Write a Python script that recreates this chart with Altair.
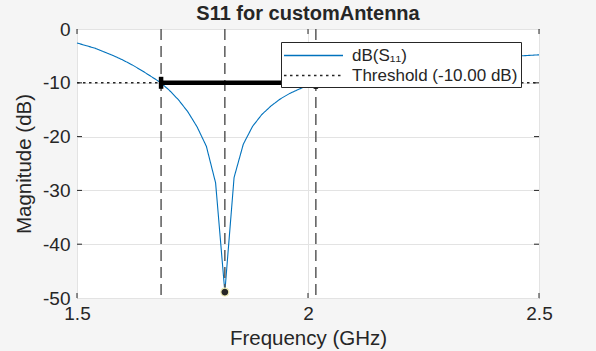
import altair as alt
import pandas as pd

# ---- data ----
freq_ghz = [1.50, 1.52, 1.54, 1.56, 1.58, 1.60, 1.62, 1.64, 1.66, 1.68,
            1.70, 1.72, 1.74, 1.76, 1.78, 1.80, 1.82, 1.84, 1.86, 1.88,
            1.90, 1.92, 1.94, 1.96, 1.98, 2.00, 2.02, 2.04, 2.06, 2.08,
            2.10, 2.12, 2.14, 2.16, 2.18, 2.20, 2.22, 2.24, 2.26, 2.28,
            2.30, 2.32, 2.34, 2.36, 2.38, 2.40, 2.42, 2.44, 2.46, 2.48, 2.50]
s11_db = [-2.6, -3.1, -3.6, -4.3, -5.0, -5.8, -6.7, -7.7, -8.8, -9.9,
          -11.4, -13.2, -15.4, -18.2, -21.8, -28.6, -48.9, -27.6, -21.4, -18.1,
          -15.9, -14.3, -13.0, -12.0, -11.2, -10.5, -9.9, -9.3, -8.8, -8.4,
          -8.0, -7.7, -7.4, -7.1, -6.9, -6.7, -6.5, -6.3, -6.2, -6.0,
          -5.9, -5.8, -5.6, -5.5, -5.4, -5.3, -5.2, -5.1, -5.0, -4.9, -4.8]
threshold_db = -10
marker_freqs = [1.682, 1.820, 2.017]
band_lo, band_hi = 1.682, 2.017
min_freq, min_db = 1.82, -48.9
x_ticks = [1.5, 2.0, 2.5]
y_ticks = [0, -10, -20, -30, -40, -50]

curve_name = "dB(S\u2081\u2081)"
thr_name = "Threshold (-10.00 dB)"

FONT = "Liberation Sans"
TXT = "#262626"

df_curve = pd.DataFrame({"f": freq_ghz, "db": s11_db, "series": curve_name})
df_thr = pd.DataFrame({"f": [x_ticks[0], x_ticks[-1]], "db": [threshold_db] * 2, "series": thr_name})
df_marks = pd.DataFrame({"f": marker_freqs})
df_band = pd.DataFrame({"lo": [band_lo], "hi": [band_hi], "db": [threshold_db]})
df_ends = pd.DataFrame({"f": [band_lo, band_hi], "db": [threshold_db] * 2})
df_min = pd.DataFrame({"f": [min_freq], "db": [min_db]})
df_xt = pd.DataFrame({"f": x_ticks})
df_yt = pd.DataFrame({"db": y_ticks[1:-1]})

W, H = 462, 269

xscale = alt.Scale(domain=[1.5, 2.5], nice=False, zero=False)
yscale = alt.Scale(domain=[-50, 0], nice=False, zero=False)

xax = alt.Axis(values=x_ticks, grid=True, gridColor="#e3e3e3", ticks=False, tickSize=0,
               domain=False, labelFontSize=19, labelFont=FONT, labelColor=TXT,
               labelPadding=6, labelFlush=False, title="Frequency (GHz)", titleFont=FONT,
               titleFontSize=20.5, titleFontWeight="normal", titleColor=TXT, titlePadding=5,
               labelExpr="'' + datum.value")
yax = alt.Axis(values=y_ticks, grid=True, gridColor="#e3e3e3", ticks=False, tickSize=0,
               domain=False, labelFontSize=19, labelFont=FONT, labelColor=TXT,
               labelPadding=7, labelFlush=False, title="Magnitude (dB)", titleFont=FONT,
               titleFontSize=20.5, titleFontWeight="normal", titleColor=TXT, titlePadding=8,
               labelExpr="'' + datum.value")

color_scale = alt.Scale(domain=[curve_name, thr_name], range=["#0072BD", TXT])
dash_scale = alt.Scale(domain=[curve_name, thr_name], range=[[1, 0], [2.5, 3.5]])
legend = alt.Legend(title=None, orient="none", legendX=204, legendY=13,
                    symbolType="M-3,0H3", symbolSize=387, symbolOffset=19,
                    symbolStrokeWidth=1.3, labelOffset=28, labelLimit=400,
                    labelFont=FONT, labelFontSize=17, labelColor=TXT,
                    fillColor="white", strokeColor=TXT, padding=3, rowPadding=1,
                    zindex=1)

thr = alt.Chart(df_thr).mark_line(strokeWidth=1.6).encode(
    x=alt.X("f:Q", scale=xscale, axis=xax),
    y=alt.Y("db:Q", scale=yscale, axis=yax),
    color=alt.Color("series:N", scale=color_scale, legend=legend),
    strokeDash=alt.StrokeDash("series:N", scale=dash_scale, legend=legend),
)
curve = alt.Chart(df_curve).mark_line(strokeWidth=1.1).encode(
    x="f:Q", y="db:Q",
    color=alt.Color("series:N", scale=color_scale, legend=legend),
    strokeDash=alt.StrokeDash("series:N", scale=dash_scale, legend=legend),
)
vlines = alt.Chart(df_marks).mark_rule(color="#5a5a5a", strokeWidth=1.5, strokeDash=[11, 6]).encode(
    x="f:Q"
)
band = alt.Chart(df_band).mark_rule(color="black", strokeWidth=4.5).encode(
    x="lo:Q", x2="hi:Q", y="db:Q"
)
ends = alt.Chart(df_ends).mark_tick(color="black", size=12, thickness=4.5, orient="vertical", opacity=1).encode(
    x="f:Q", y="db:Q"
)
minpt = alt.Chart(df_min).mark_point(filled=True, fill="#262626", stroke="#f3f0b8",
                                     strokeWidth=1.2, size=64, opacity=1, shape="circle").encode(
    x="f:Q", y="db:Q"
)
xt_bottom = alt.Chart(df_xt).mark_rule(color=TXT, strokeWidth=1).encode(
    x="f:Q", y=alt.value(H), y2=alt.value(H - 5)
)
xt_top = alt.Chart(df_xt).mark_rule(color=TXT, strokeWidth=1).encode(
    x="f:Q", y=alt.value(0), y2=alt.value(5)
)
yt_left = alt.Chart(df_yt).mark_rule(color=TXT, strokeWidth=1).encode(
    y="db:Q", x=alt.value(0), x2=alt.value(5)
)
yt_right = alt.Chart(df_yt).mark_rule(color=TXT, strokeWidth=1).encode(
    y="db:Q", x=alt.value(W), x2=alt.value(W - 5)
)

chart = alt.layer(
    thr, curve, vlines, band, ends, minpt, xt_bottom, xt_top, yt_left, yt_right
).properties(
    width=W, height=H,
    background="#f5f5f5",
    padding={"left": 77, "top": 29, "right": 57, "bottom": 53},
    autosize=alt.AutoSizeParams(type="none"),
    title=alt.TitleParams("S11 for customAntenna", fontSize=20, fontWeight="bold",
                          font=FONT, color=TXT, offset=-4, anchor="middle",
                          frame="group"),
).configure_view(stroke=TXT, strokeWidth=1, fill="white")

chart.save("out.html", embed_options={"renderer": "svg", "actions": False})
